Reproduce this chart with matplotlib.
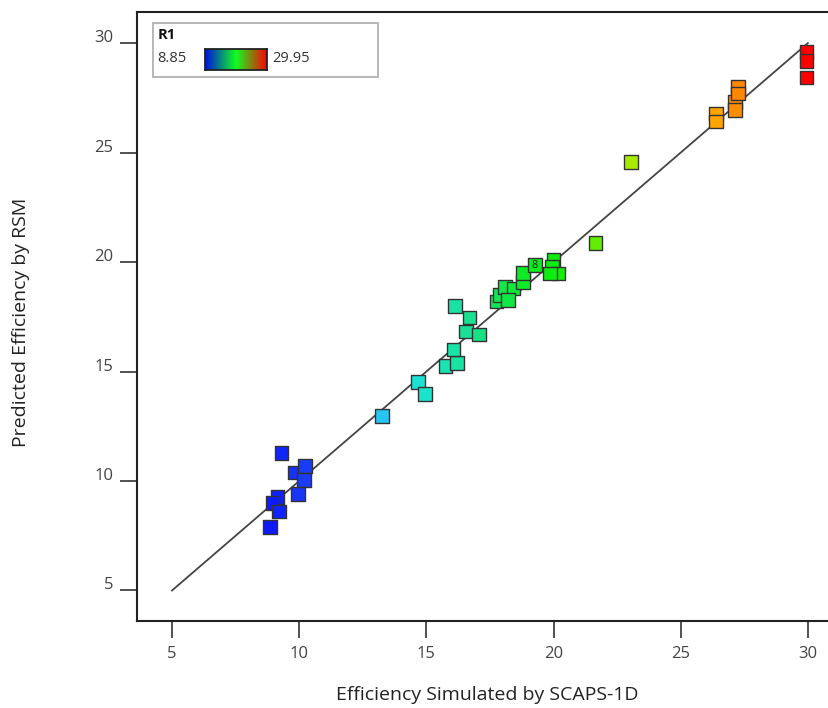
import numpy as np
import matplotlib
matplotlib.use("Agg")
import matplotlib.pyplot as plt
from matplotlib.colors import LinearSegmentedColormap, Normalize
from matplotlib.patches import Rectangle
from matplotlib.transforms import offset_copy

plt.rcParams['font.family'] = ['Open Sans', 'DejaVu Sans']

actual = [9.31, 9.83, 10.23, 10.19, 9.95, 9.15, 8.96, 9.21, 8.85,
          13.25, 14.68, 14.95, 15.76, 16.21, 16.06, 16.56, 17.08, 16.69, 16.12,
          17.76, 17.89, 18.09, 18.42, 18.22, 18.81, 18.81, 19.27,
          19.99, 19.93, 20.19, 19.86, 21.65, 23.04,
          26.38, 26.38, 27.13, 27.13, 27.26, 27.26, 29.95, 29.95, 29.95]
predicted = [11.29, 10.38, 10.68, 10.05, 9.41, 9.27, 9.0, 8.60, 7.90,
             12.97, 14.51, 13.97, 15.25, 15.40, 16.01, 16.82, 16.70, 17.46, 17.99,
             18.19, 18.49, 18.87, 18.80, 18.26, 19.10, 19.51, 19.86,
             20.09, 19.79, 19.48, 19.48, 20.88, 24.57,
             26.79, 26.41, 27.32, 26.94, 28.0, 27.7, 29.6, 29.19, 28.43]
r1_min, r1_max = 8.85, 29.95

x_ticks = [5, 10, 15, 20, 25, 30]
y_ticks = [5, 10, 15, 20, 25, 30]

pts_cmap = LinearSegmentedColormap.from_list("de", [
    (0.0, (0.05, 0.1, 1.0)),
    (0.07, (0.1, 0.25, 0.97)),
    (0.21, (0.15, 0.78, 0.95)),
    (0.29, (0.1, 0.9, 0.8)),
    (0.38, (0.1, 0.88, 0.55)),
    (0.47, (0.05, 0.92, 0.15)),
    (0.53, (0.05, 0.93, 0.05)),
    (0.67, (0.65, 0.93, 0.0)),
    (0.83, (1.0, 0.65, 0.0)),
    (0.88, (1.0, 0.52, 0.0)),
    (1.0, (1.0, 0.0, 0.0))])
bar_cmap = LinearSegmentedColormap.from_list("bgr", ["#0010e0", "#10ff20", "#ff0000"])

fig = plt.figure(figsize=(8.29, 7.08), dpi=100)
ax = fig.add_axes([137/829, 1 - 621/708, 1 - 137/829, (621 - 12)/708])

ax.plot([5, 30], [5, 30], color='#444444', lw=1.3, zorder=2)
ax.scatter(actual, predicted, c=actual, cmap=pts_cmap, norm=Normalize(r1_min, r1_max),
           marker='s', s=95, edgecolors='#333333', linewidths=1.0, zorder=3)
ax.text(19.27, 19.86, "8", fontsize=8, ha='center', va='center', zorder=4, color='#222222')

ax.set_xlim(3.624, 30.83)
ax.set_ylim(3.607, 31.42)
ax.set_xticks(x_ticks)
ax.set_yticks(y_ticks)
for s in ['left', 'bottom', 'top']:
    ax.spines[s].set_linewidth(1.5)
    ax.spines[s].set_color('#222222')
ax.spines['right'].set_visible(False)
ax.tick_params(axis='both', direction='out', length=12, width=1.2, color='#333333',
               labelsize=12, labelcolor='#444444')
ax.tick_params(axis='y', pad=5)
ax.tick_params(axis='x', pad=6)
for lab in ax.get_yticklabels():
    lab.set_transform(offset_copy(lab.get_transform(), fig=fig, x=0, y=7, units='dots'))

fig.text(487/829, 1 - 695/708, "Efficiency Simulated by SCAPS-1D", ha='center', va='center',
         fontsize=14, color='#222222')
fig.text(21/829, 1 - 322/708, "Predicted Efficiency by RSM", ha='center', va='center',
         rotation=90, fontsize=14, color='#222222')

# legend box with the colour range
fig.patches.append(Rectangle((153/829, 1 - 77/708), 225/829, 54/708, transform=fig.transFigure,
                             fill=False, edgecolor='#aaaaaa', lw=1.2))
fig.text(158/829, 1 - 35/708, "R1", fontsize=10.5, fontweight='bold', va='center', color='#111111')
fig.text(157/829, 1 - 58/708, "8.85", fontsize=10.5, va='center', color='#333333')
fig.text(272/829, 1 - 58/708, "29.95", fontsize=10.5, va='center', color='#333333')
cax = fig.add_axes([205/829, 1 - 70/708, 62/829, 21/708])
cax.imshow(np.linspace(0, 1, 200)[None, :], aspect='auto', cmap=bar_cmap)
cax.set_xticks([])
cax.set_yticks([])
for s in cax.spines.values():
    s.set_linewidth(1.3)
    s.set_color('#222222')

fig.savefig("out.png", dpi=100)
